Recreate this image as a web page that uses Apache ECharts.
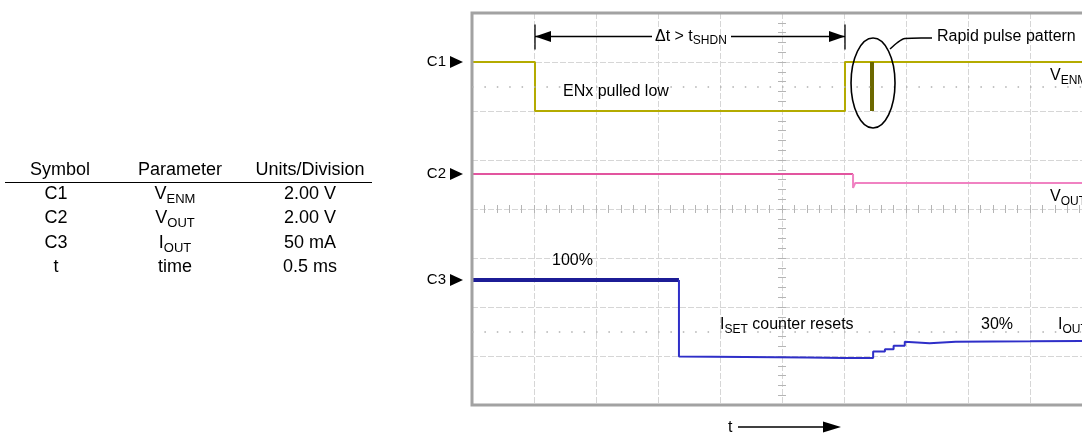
<!DOCTYPE html>
<html><head><meta charset="utf-8">
<script src="https://cdn.jsdelivr.net/npm/echarts@6/dist/echarts.min.js"></script>
<style>html,body{margin:0;padding:0;background:#fff}#c{width:1082px;height:435px}</style>
</head><body><div id="c"></div>
<script>
// time in ms (0.5 ms/div); amplitude in screen divisions (graticule centre = 0)
const c1Time = [0, 0.508, 0.508, 3.008, 3.008, 5.0];
const c1Div  = [3.0, 3.0, 2.0, 2.0, 3.0, 3.0];
const c1PulseTime = [3.226, 3.226];
const c1PulseDiv  = [3.0, 2.0];
const c2Time = [0, 3.073];
const c2Div  = [0.714, 0.714];
const c2bTime = [3.073, 3.073, 3.09, 3.12, 5.0];
const c2bDiv  = [0.714, 0.43, 0.53, 0.53, 0.53];
const c3HighTime = [0, 1.669];
const c3HighDiv  = [-1.449, -1.449];
const c3Time = [1.669, 1.669, 2.2, 2.7, 3.0, 3.235, 3.235, 3.33, 3.33, 3.40, 3.40, 3.49, 3.49, 3.69, 3.9, 4.5, 5.0];
const c3Div  = [-1.449, -3.01, -3.02, -3.03, -3.04, -3.04, -2.91, -2.91, -2.86, -2.86, -2.79, -2.79, -2.71, -2.74, -2.71, -2.70, -2.69];
const dottedLevels = [2.5, -2.5];
const channelNames = ['C1', 'C2', 'C3'];

const tableHeaders = ['Symbol', 'Parameter', 'Units/Division'];
const tableSymbols = ['C1', 'C2', 'C3', 't'];
const tableParams  = [['V', 'ENM'], ['V', 'OUT'], ['I', 'OUT'], ['time', '']];
const tableUnits   = ['2.00 V', '2.00 V', '50 mA', '0.5 ms'];

const FONT = '"Liberation Sans", Arial, Helvetica, sans-serif';
const zip = (a, b) => a.map((v, i) => [v, b[i]]);

const chart = echarts.init(document.getElementById('c'), null, {renderer: 'canvas'});
const G = {left: 472, top: 13, width: 620, height: 392, outerBoundsMode: 'none', containLabel: false};
const gridLine = {show: true, lineStyle: {color: '#d6d6d6', width: 1, type: [6, 2]}};
const tickColor = '#b5b5b5';
function tickAxis(dim, inside, min, max) {
  return {
    type: 'value', gridIndex: 1, min: min, max: max, interval: 1,
    position: dim === 'x' ? 'bottom' : 'left',
    axisLine: {show: false, onZero: true},
    axisTick: {show: true, inside: inside, length: 4, lineStyle: {color: tickColor}},
    minorTick: {show: true, splitNumber: 5, length: 4, lineStyle: {color: tickColor}},
    axisLabel: {show: false}, splitLine: {show: false}
  };
}
const line = (data, color, width, z) => ({
  type: 'line', data: data, showSymbol: false, symbol: 'none', animation: false, z: z || 3,
  lineStyle: {color: color, width: width}, xAxisIndex: 0, yAxisIndex: 0
});

const series = [
  Object.assign(line(zip(c1Time, c1Div), '#b4ab00', 2), {
    markLine: {silent: true, symbol: 'none', animation: false, label: {show: false},
      lineStyle: {color: '#b0b0b0', type: [1.5, 10.9], width: 1.5},
      data: dottedLevels.map(v => ({yAxis: v}))}
  }),
  line(zip(c1PulseTime, c1PulseDiv), '#6c6800', 4, 4),
  line(zip(c2Time, c2Div), '#e2559f', 2),
  line(zip(c2bTime, c2bDiv), '#f082c2', 2),
  line(zip(c3HighTime, c3HighDiv), '#1c1c96', 4),
  line(zip(c3Time, c3Div), '#2f2fc8', 2)
];

chart.setOption({
  backgroundColor: '#fff',
  animation: false,
  grid: [
    Object.assign({show: true, borderColor: '#a2a2a2', borderWidth: 3, backgroundColor: 'transparent', z: 5}, G),
    Object.assign({show: false}, G)
  ],
  xAxis: [
    {type: 'value', gridIndex: 0, min: 0, max: 5, interval: 0.5, axisLine: {show: false},
     axisTick: {show: false}, axisLabel: {show: false}, splitLine: gridLine},
    tickAxis('x', false, -5, 5),
    tickAxis('x', true, -5, 5)
  ],
  yAxis: [
    {type: 'value', gridIndex: 0, min: -4, max: 4, interval: 1, axisLine: {show: false},
     axisTick: {show: false}, axisLabel: {show: false}, splitLine: gridLine},
    tickAxis('y', false, -4, 4),
    tickAxis('y', true, -4, 4)
  ],
  series: series
});

// ---------- annotations & table (graphic) ----------
const px = (t, d) => chart.convertToPixel({gridIndex: 0}, [t, d]);
const g = [];
const txt = (x, y, text, opt) => g.push(Object.assign({type: 'text', z: 20, style: Object.assign({
  x: x, y: y, text: text, font: '16px ' + FONT, fill: '#000', align: 'left', verticalAlign: 'middle'}, opt || {})}));
const subRich = (size, sub, pad) => ({m: {fontSize: size, fontFamily: FONT}, s: {fontSize: sub, fontFamily: FONT, padding: [pad, 0, 0, 0]}});
const poly = (pts) => g.push({type: 'polygon', z: 20, shape: {points: pts}, style: {fill: '#000'}});
const seg = (x1, y1, x2, y2, w) => g.push({type: 'line', z: 20, shape: {x1, y1, x2, y2}, style: {stroke: '#000', lineWidth: w || 1.3}});

// table
const TF = '18px ' + FONT;
const colX = [60, 180, 310];
tableHeaders.forEach((h, i) => txt(colX[i], 170, h, {align: 'center', font: TF}));
seg(5, 182.5, 372, 182.5, 1.2);
const rowY = [194, 218.5, 243, 267.5];
tableSymbols.forEach((s, i) => txt(56, rowY[i], s, {align: 'center', font: TF}));
tableParams.forEach((p, i) => txt(175, rowY[i], p[1] ? '{m|' + p[0] + '}{s|' + p[1] + '}' : '{m|' + p[0] + '}',
  {align: 'center', rich: subRich(18, 13, 10)}));
tableUnits.forEach((u, i) => txt(310, rowY[i], u, {align: 'center', font: TF}));

// channel markers
const levels = [c1Div[0], c2Div[0], c3HighDiv[0]];
levels.forEach((lv, i) => {
  const y = px(0, lv)[1];
  txt(446, y, channelNames[i], {align: 'right', font: '15px ' + FONT});
  poly([[450, y - 6], [450, y + 6], [463, y]]);
});

// delta-t arrow between the C1 edges
const dtDiv = 3.52;
const pA = px(c1Time[1], dtDiv), pB = px(c1Time[3], dtDiv);
seg(pA[0], pA[1] - 12, pA[0], pA[1] + 13, 1.3);
seg(pB[0], pB[1] - 12, pB[0], pB[1] + 13, 1.3);
seg(pA[0], pA[1], 652, pA[1]);
seg(731, pB[1], pB[0], pB[1]);
poly([[pA[0], pA[1]], [pA[0] + 16, pA[1] - 5.5], [pA[0] + 16, pA[1] + 5.5]]);
poly([[pB[0], pB[1]], [pB[0] - 16, pB[1] - 5.5], [pB[0] - 16, pB[1] + 5.5]]);
txt(655, pA[1], '{m|\u0394t > t}{s|SHDN}', {rich: subRich(16, 12, 9)});

// rapid pulse ellipse + leader
const pe = px(c1PulseTime[0], 2.57);
g.push({type: 'ellipse', z: 20, shape: {cx: pe[0] + 1, cy: pe[1], rx: 22, ry: 45}, style: {stroke: '#000', fill: null, lineWidth: 1.6}});
g.push({type: 'polyline', z: 20, shape: {points: [[pe[0] + 18, pe[1] - 34], [pe[0] + 26, pe[1] - 41], [pe[0] + 33, pe[1] - 44.5], [932, pe[1] - 45]], smooth: 0.3},
  style: {stroke: '#000', fill: null, lineWidth: 1.5}});
txt(937, 37, 'Rapid pulse pattern');

txt(563, 91.5, 'ENx pulled low');
txt(1050, 76, '{m|V}{s|ENM}', {rich: subRich(16, 12, 9)});
txt(1050, 197, '{m|V}{s|OUT}', {rich: subRich(16, 12, 9)});
txt(552, 261, '100%');
txt(720, 325, '{m|I}{s|SET}{m| counter resets}', {rich: subRich(16, 12, 9)});
txt(981, 325, '30%');
txt(1058, 325, '{m|I}{s|OUT}', {rich: subRich(16, 12, 9)});

// time arrow
txt(728, 428, 't');
seg(738, 427, 826, 427, 1.3);
poly([[841, 427], [823, 421.5], [823, 432.5]]);

chart.setOption({graphic: {elements: g}});
</script></body></html>
